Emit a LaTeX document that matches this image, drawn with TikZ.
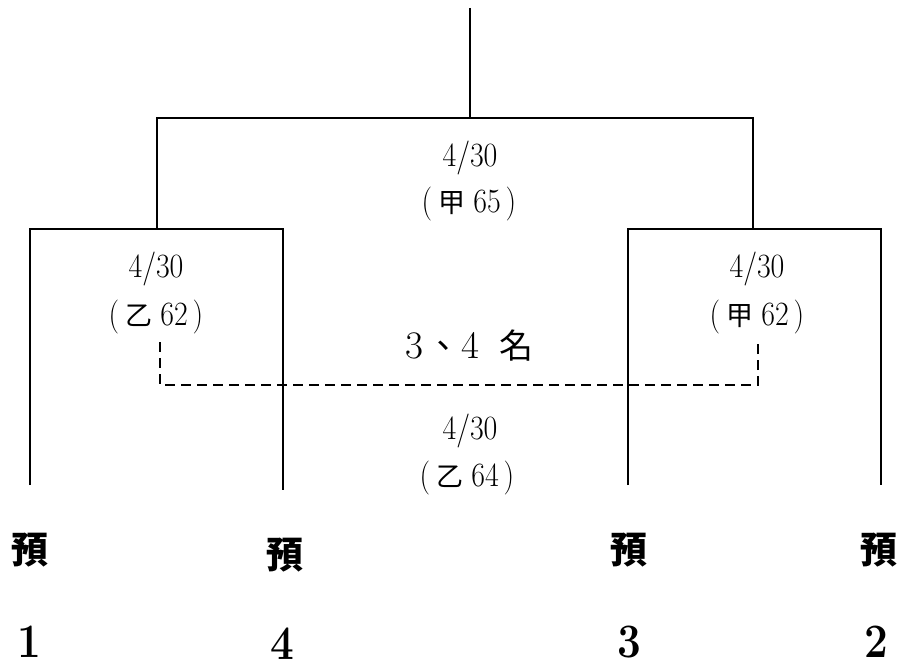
\documentclass[tikz,border=0pt]{standalone}
\usepackage{fontspec}
\newfontfamily\cjk{Noto Sans CJK TC}
\newcommand{\nar}[1]{\scalebox{0.88}[1]{#1}}
\newcommand{\cj}[1]{{\cjk\fontsize{27}{29}\selectfont #1}}
\newcommand{\cjb}[1]{{\cjk\fontsize{34}{36}\selectfont #1}}
\newcommand{\scoretext}[2]{\nar{(}\hspace{6pt}\cj{#1}\hspace{8pt}\nar{#2}\hspace{5pt}\nar{)}}
\tikzset{
  bline/.style={line width=1.8pt, black},
  dline/.style={line width=1.8pt, black, dash pattern=on 10pt off 6pt},
  datetxt/.style={inner sep=0pt, anchor=base, font=\fontsize{34}{36}\selectfont},
  scoretxt/.style={inner sep=0pt, anchor=base, font=\fontsize{34}{36}\selectfont},
  ranktxt/.style={inner sep=0pt, anchor=base west, font=\fontsize{39}{42}\selectfont},
  seedtxt/.style={inner sep=0pt, font=\cjk\bfseries\fontsize{37}{40}\selectfont},
  numtxt/.style={inner sep=0pt, anchor=base, font=\bfseries\fontsize{48}{50}\selectfont},
}
\begin{document}
\begin{tikzpicture}[x=1pt,y=-1pt]
\useasboundingbox (0,0) rectangle (903,666);
% coordinates
\coordinate (top) at (470,8);
\coordinate (fin) at (470,118);
\coordinate (finL) at (157,118);
\coordinate (finR) at (753,118);
\coordinate (sL) at (157,229);
\coordinate (sR) at (753,229);
\coordinate (sLa) at (30,229);
\coordinate (sLb) at (283,229);
\coordinate (sRa) at (628,229);
\coordinate (sRb) at (881,229);
\coordinate (e1) at (30,485);
\coordinate (e4) at (283,490);
\coordinate (e3) at (628,485);
\coordinate (e2) at (881,485);
\coordinate (dL1) at (160,342);
\coordinate (dL2) at (160,385);
\coordinate (dR2) at (758,385);
\coordinate (dR1) at (758,342);
% bracket lines
\draw[bline] (top) -- (fin);
\draw[bline] (sL) -- (finL) -- (finR) -- (sR);
\draw[bline] (e1) -- (sLa) -- (sLb) -- (e4);
\draw[bline] (e3) -- (sRa) -- (sRb) -- (e2);
\draw[dline] (dL1) -- (dL2) -- (dR2) -- (dR1);
% texts
\node[datetxt] (d1) at (470,167) {\nar{4/30}};
\node[scoretxt] (s1) at (469,213) {\scoretext{甲}{65}};
\node[datetxt] (d2) at (156,277) {\nar{4/30}};
\node[scoretxt] (s2) at (156,325) {\scoretext{乙}{62}};
\node[datetxt] (d3) at (757,277) {\nar{4/30}};
\node[scoretxt] (s3) at (757,325) {\scoretext{甲}{62}};
\node[ranktxt] (r34) at (405,358) {3\hspace{3pt}\cjb{、}\hspace{1pt}4\hspace{20pt}\cjb{名}};
\node[datetxt] (d4) at (470,439) {\nar{4/30}};
\node[scoretxt] (s4) at (467,486) {\scoretext{乙}{64}};
% seeds
\node[seedtxt] (p1) at (29.5,550) {預};
\node[seedtxt] (p4) at (284.5,555.5) {預};
\node[seedtxt] (p3) at (628.5,550) {預};
\node[seedtxt] (p2) at (878.5,550) {預};
\node[numtxt] (n1) at (29.5,657) {\nar{1}};
\node[numtxt] (n4) at (282.5,659) {\nar{4}};
\node[numtxt] (n3) at (629,657) {\nar{3}};
\node[numtxt] (n2) at (876.5,657) {\nar{2}};
\end{tikzpicture}
\end{document}
